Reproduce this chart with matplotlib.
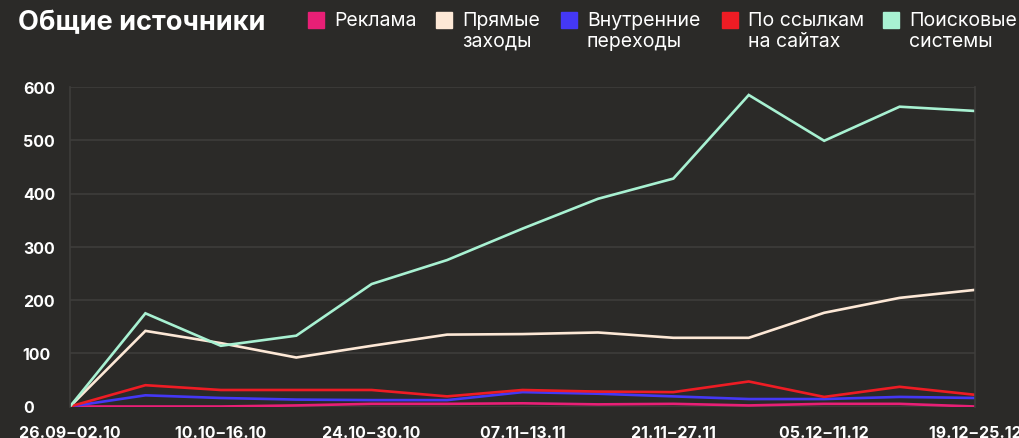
import matplotlib.pyplot as plt
from matplotlib.patches import Rectangle

plt.rcParams['font.family'] = ['Inter', 'DejaVu Sans']

weeks = ['26.09\u200a–\u200a02.10', '03.10\u200a–\u200a09.10', '10.10\u200a–\u200a16.10',
         '17.10\u200a–\u200a23.10', '24.10\u200a–\u200a30.10', '31.10\u200a–\u200a06.11',
         '07.11\u200a–\u200a13.11', '14.11\u200a–\u200a20.11', '21.11\u200a–\u200a27.11',
         '28.11\u200a–\u200a04.12', '05.12\u200a–\u200a11.12', '12.12\u200a–\u200a18.12',
         '19.12\u200a–\u200a25.12']

ads = [0, 0, 0, 2, 5, 5, 6, 4, 5, 2, 5, 5, 0]
direct = [0, 142, 119, 92, 114, 135, 136, 139, 129, 129, 176, 204, 219]
internal = [0, 21, 16, 13, 12, 12, 27, 24, 19, 14, 14, 18, 16]
referral = [0, 40, 31, 31, 31, 19, 31, 28, 27, 47, 18, 37, 22]
search = [0, 175, 114, 133, 230, 275, 334, 390, 428, 585, 499, 563, 555]

labels = ['Реклама', 'Прямые\nзаходы', 'Внутренние\nпереходы', 'По ссылкам\nна сайтах', 'Поисковые\nсистемы']
colors = ['#e81f76', '#fde8d6', '#4438f5', '#ee1c24', '#a8f1d2']
series = [ads, direct, internal, referral, search]

bg = '#2b2a28'
fig = plt.figure(figsize=(10.2, 4.39), dpi=100, facecolor=bg)
ax = fig.add_axes([70 / 1020, 31.5 / 439, 905 / 1020, 319.5 / 439], facecolor=bg)

x = list(range(len(weeks)))
for vals, c in zip(series, colors):
    ax.plot(x, vals, color=c, lw=1.9, solid_joinstyle='miter')

ax.set_xlim(0, 12)
ax.set_ylim(0, 600)
ax.set_yticks([0, 100, 200, 300, 400, 500, 600])
ax.set_xticks(x[::2])
ax.set_xticklabels(weeks[::2])
ax.grid(axis='y', color='#3e3d3b', lw=1.2)
ax.set_axisbelow(True)
for s in ['top', 'bottom']:
    ax.spines[s].set_visible(False)
for s in ['left', 'right']:
    ax.spines[s].set_color('#3e3d3b')
    ax.spines[s].set_linewidth(1.2)
ax.tick_params(length=0, colors='white')
ax.tick_params(axis='y', pad=34)
ax.tick_params(axis='x', pad=13)
for t in ax.get_yticklabels():
    t.set_ha('left')
    t.set_fontsize(11.5)
    t.set_fontweight('bold')
for t in ax.get_xticklabels():
    t.set_fontsize(11.5)
    t.set_fontweight('bold')

fig.text(18 / 1020, 1 - 30.5 / 439, 'Общие источники', color='white', fontsize=19.5,
         fontweight='bold', va='baseline', ha='left')

sq_x = [308, 436, 561, 722, 883]
for sx, lab, c in zip(sq_x, labels, colors):
    fig.patches.append(Rectangle((sx / 1020, 1 - 29 / 439), 16 / 1020, 16 / 439,
                                 transform=fig.transFigure, color=c))
    fig.text((sx + 26) / 1020, 1 - 12 / 439, lab, color='white', fontsize=14,
             va='top', ha='left', linespacing=1.2)

fig.savefig('out.png', dpi=100, facecolor=bg)
